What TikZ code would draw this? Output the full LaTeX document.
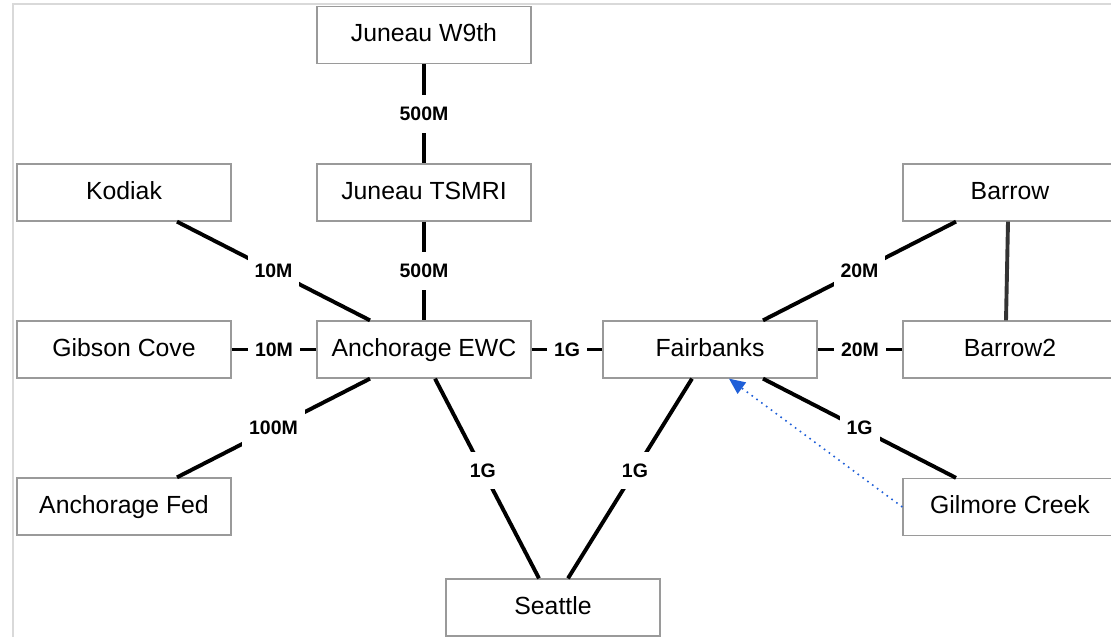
\documentclass[tikz,border=0pt]{standalone}
\usepackage{fontspec}
\setmainfont{Liberation Sans}
\usetikzlibrary{arrows.meta}
\definecolor{boxgray}{HTML}{9A9A9A}
\definecolor{linkblue}{HTML}{1F5FD8}
\definecolor{darklink}{HTML}{333333}
\begin{document}
\begin{tikzpicture}[x=1pt,y=-1pt,
  site/.style={draw=boxgray,line width=1.3pt,fill=white,minimum width=214pt,minimum height=57pt,inner sep=0pt,text height=18pt,text depth=5pt,font=\fontsize{24.8}{29}\selectfont},
  link/.style={line width=3.9pt,draw=black},
  bw/.style={fill=white,inner xsep=7pt,inner ysep=12pt,font=\bfseries\fontsize{19.5}{22}\selectfont},
  frameline/.style={draw=gray!30,line width=1.8pt}
]
\clip (0,0) rectangle (1111,637);
\fill[white] (0,0) rectangle (1111,637);
\coordinate (fc) at (13,4);
\coordinate (fr) at (1111,4);
\coordinate (fb) at (13,637);
\draw[frameline] (fb) -- (fc) -- (fr);

\node[site] (jw)   at (424,35)    {Juneau W9th};
\node[site] (kod)  at (124,192.5) {Kodiak};
\node[site] (jt)   at (424,192.5) {Juneau TSMRI};
\node[site] (bar)  at (1010,192.5) {Barrow};
\node[site] (gib)  at (124,349.5) {Gibson Cove};
\node[site] (aewc) at (424,349.5) {Anchorage EWC};
\node[site] (fai)  at (710,349.5) {Fairbanks};
\node[site] (bar2) at (1010,349.5) {Barrow2};
\node[site] (afed) at (124,506.5) {Anchorage Fed};
\node[site] (gil)  at (1010,507)  {Gilmore Creek};
\node[site] (sea)  at (553,607.5) {Seattle};

\draw[link] (jw.south) -- node[bw] {500M} (jt.north);
\draw[link] (jt.south) -- node[bw] {500M} (aewc.north);
\draw[link] ([xshift=53pt]kod.south) -- node[bw] {10M} ([xshift=-54pt]aewc.north);
\draw[link] (gib.east) -- node[bw] {10M} (aewc.west);
\draw[link] ([xshift=-54pt]aewc.south) -- node[bw] {100M} ([xshift=53pt]afed.north);
\draw[link] (aewc.east) -- node[bw] {1G} (fai.west);
\draw[link] ([xshift=11pt]aewc.south) -- node[bw,pos=0.46] {1G} ([xshift=-14pt]sea.north);
\draw[link] ([xshift=-18pt]fai.south) -- node[bw,pos=0.46] {1G} ([xshift=15pt]sea.north);
\draw[link] ([xshift=53pt]fai.north) -- node[bw] {20M} ([xshift=-54pt]bar.south);
\draw[link] (fai.east) -- node[bw] {20M} (bar2.west);
\draw[link] ([xshift=53pt]fai.south) -- node[bw] {1G} ([xshift=-54pt]gil.north);
\draw[line width=3.9pt,draw=darklink] ([xshift=-2pt]bar.south) -- ([xshift=-4pt]bar2.north);
\draw[linkblue,line width=1.6pt,dash pattern=on 1.6pt off 4.4pt,-{Triangle[length=16pt,width=14pt]}] (gil.west) -- ([xshift=19pt]fai.south);
\end{tikzpicture}
\end{document}
